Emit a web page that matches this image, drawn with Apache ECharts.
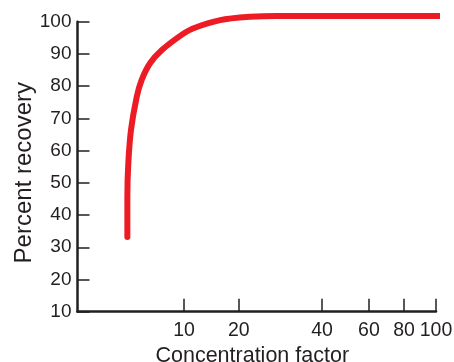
<!DOCTYPE html>
<html>
<head>
<meta charset="utf-8">
<script src="https://cdn.jsdelivr.net/npm/echarts@6/dist/echarts.min.js"></script>
<style>
  html, body { margin: 0; padding: 0; background: #fff; }
  #chart { width: 454px; height: 362px; }
</style>
</head>
<body>
<div id="chart"></div>
<script>
// concentration factor vs percent recovery
const concentration = [2.94, 2.94, 3.0, 3.18, 3.6, 4.0, 4.8, 6.2, 9.5, 11.2, 15.8, 21.9, 27.4, 40, 60, 80, 105];
const recovery = [33.2, 45.7, 56.0, 66.4, 76.7, 81.9, 87.1, 91.2, 95.9, 97.9, 100.5, 101.5, 101.8, 101.8, 101.8, 101.8, 101.8];

const xTickLabels = [10, 20, 40, 60, 80, 100];
// the figure's x scale is hand drawn: where each labelled factor sits along the axis (0..1)
const xTickSpots = [0.297, 0.45, 0.682, 0.813, 0.911, 1];
const yTicks = [10, 20, 30, 40, 50, 60, 70, 80, 90, 100];

const ink = '#231f20';
const font = '"Liberation Sans", Arial, Helvetica, sans-serif';

// factor -> axis spot, log-interpolated between the labelled factors (origin = factor 1)
const anchorsF = [1].concat(xTickLabels);
const anchorsS = [0].concat(xTickSpots);
function spotOf(f) {
  const lf = Math.log10(f);
  let i = 0;
  while (i < anchorsF.length - 2 && lf > Math.log10(anchorsF[i + 1])) i++;
  const a = Math.log10(anchorsF[i]), b = Math.log10(anchorsF[i + 1]);
  return anchorsS[i] + (lf - a) / (b - a) * (anchorsS[i + 1] - anchorsS[i]);
}

const chart = echarts.init(document.getElementById('chart'));
chart.setOption({
  animation: false,
  grid: { left: 77.5, right: 18, top: 21.7, bottom: 50.3, outerBoundsMode: 'none' },
  xAxis: {
    type: 'value',
    min: 0,
    max: 1,
    name: 'Concentration factor',
    nameLocation: 'middle',
    nameGap: 33,
    nameMoveOverlap: false,
    nameTextStyle: { fontFamily: font, fontSize: 21.5, color: ink, padding: [0, 9, 0, 0] },
    axisLine: { lineStyle: { color: ink, width: 2.5 } },
    axisTick: {
      inside: true,
      length: 13,
      customValues: xTickSpots,
      lineStyle: { color: ink, width: 1.5 }
    },
    axisLabel: {
      customValues: xTickSpots,
      margin: 9,
      fontFamily: font,
      fontSize: 19.5,
      color: ink,
      formatter: (v) => {
        const i = xTickSpots.findIndex((s) => Math.abs(s - v) < 1e-6);
        return i >= 0 ? String(xTickLabels[i]) : '';
      }
    },
    splitLine: { show: false }
  },
  yAxis: {
    type: 'value',
    min: 10,
    max: 100,
    interval: 10,
    name: 'Percent recovery',
    nameLocation: 'middle',
    nameGap: 41,
    nameMoveOverlap: false,
    nameTextStyle: { fontFamily: font, fontSize: 24, color: ink, padding: [0, 12, 0, 0] },
    axisLine: { show: true, lineStyle: { color: ink, width: 2.5 } },
    axisTick: {
      show: true,
      inside: true,
      length: 12,
      customValues: yTicks,
      lineStyle: { color: ink, width: 1.5 }
    },
    axisLabel: { margin: 6, fontFamily: font, fontSize: 19, color: ink },
    splitLine: { show: false }
  },
  series: [
    {
      type: 'line',
      data: concentration.map((f, i) => [spotOf(f), recovery[i]]),
      smooth: 0.25,
      showSymbol: false,
      clip: false,
      lineStyle: { color: '#ed1c24', width: 6, cap: 'round', join: 'round' }
    }
  ]
});
</script>
</body>
</html>
